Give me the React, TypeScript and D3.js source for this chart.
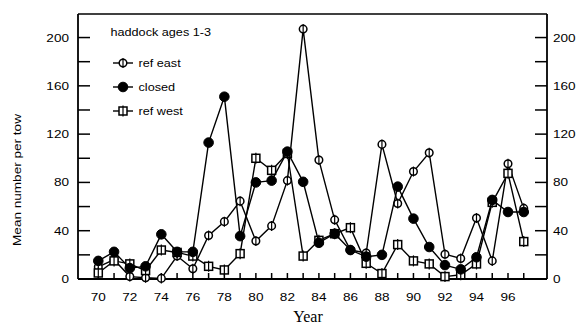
import React from "react";
import * as d3 from "d3";

const years = [70,71,72,73,74,75,76,77,78,79,80,81,82,83,84,85,86,87,88,89,90,91,92,93,94,95,96,97];
const refEast = [10,16,2,1,0.5,19,8.5,36,47.5,64.5,31.5,44,81.5,207,98.5,49,24,21.5,111.5,62.5,89,104.5,20.5,17,50.5,15,95.5,58.5];
const closed = [15,22.5,9,10.5,37,22.5,22.5,113,151,35.5,80,81.5,105.5,80.5,30,37.5,24,18.5,20,76.5,50,26.5,11.5,8,18,65.5,55.5,55.5];
const refWest = [5,15,12.5,7,24,22,19,10.5,7.5,21,100,90,104,19,32,37.5,42.5,13,4.5,28.5,15,12.5,2,3.5,12.5,63.5,87.5,31];
const yTicksMajor = [0,40,80,120,160,200];
const yTicksMinor = [20,60,100,140,180];
const xTickLabels = [70,72,74,76,78,80,82,84,86,88,90,92,94,96];
const legendItems = ["ref east","closed","ref west"];

const W = 579, H = 324;
const LEFT = 78, RIGHT = 547, TOP = 14, BOTTOM = 279;

export default function App() {
  const x = d3.scaleLinear().domain([70, 96]).range([98.3, 508]);
  const y = d3.scaleLinear().domain([0, 220]).range([BOTTOM, 13.4]);
  const line = d3.line<number>().x((_, i) => x(years[i])).y((d) => y(d));
  const sans = "Liberation Sans, Arial, Helvetica, sans-serif";
  const sx = 1.15;
  const txt = (s: string, tx: number, ty: number, anchor: string, fs = 11.8) => (
    <text transform={`translate(${tx},${ty}) scale(${sx},1)`} textAnchor={anchor} fontFamily={sans} fontSize={fs} fill="#000">{s}</text>
  );

  const marker = (kind: number, cx: number, cy: number, key: any) => {
    if (kind === 0) {
      return (
        <g key={key}>
          <circle cx={cx} cy={cy} r={3.8} fill="#fff" stroke="#000" strokeWidth={1.5} />
          <line x1={cx} x2={cx} y1={cy - 5} y2={cy + 5} stroke="#000" strokeWidth={1.2} />
        </g>
      );
    }
    if (kind === 1) {
      return <circle key={key} cx={cx} cy={cy} r={4.8} fill="#000" stroke="#000" strokeWidth={1} />;
    }
    return (
      <g key={key}>
        <rect x={cx - 4} y={cy - 4} width={8} height={8} fill="#fff" stroke="#000" strokeWidth={1.5} />
        <line x1={cx} x2={cx} y1={cy - 5.5} y2={cy + 5.5} stroke="#000" strokeWidth={1.2} />
      </g>
    );
  };

  const seriesOrder: [number[], number][] = [[refEast, 0], [refWest, 2], [closed, 1]];

  return (
    <svg width={W} height={H} style={{ position: "absolute", left: 0, top: 0, background: "#fff" }}>
      <rect x={0} y={0} width={W} height={H} fill="#fff" />
      <line x1={LEFT} x2={RIGHT} y1={TOP} y2={TOP} stroke="#000" strokeWidth={1.5} />
      <line x1={LEFT} x2={LEFT} y1={TOP} y2={BOTTOM} stroke="#000" strokeWidth={1.8} />
      <line x1={RIGHT} x2={RIGHT} y1={TOP} y2={BOTTOM} stroke="#000" strokeWidth={1.8} />
      <line x1={LEFT} x2={RIGHT} y1={BOTTOM} y2={BOTTOM} stroke="#000" strokeWidth={1.8} />
      {[...yTicksMajor, ...yTicksMinor].map((v) => (
        <g key={"yt" + v}>
          <line x1={LEFT} x2={LEFT + 12} y1={y(v)} y2={y(v)} stroke="#000" strokeWidth={1.5} />
          <line x1={RIGHT - 12} x2={RIGHT} y1={y(v)} y2={y(v)} stroke="#000" strokeWidth={1.5} />
        </g>
      ))}
      {yTicksMajor.map((v) => (
        <g key={"yl" + v}>
          {txt(String(v), 69, y(v) + 4, "end")}
          {txt(String(v), 553, y(v) + 4, "start")}
        </g>
      ))}
      {years.map((yr) => (
        <line key={"xt" + yr} x1={x(yr)} x2={x(yr)} y1={BOTTOM} y2={BOTTOM - 6} stroke="#000" strokeWidth={1.5} />
      ))}
      {xTickLabels.map((yr) => (
        <g key={"xl" + yr}>{txt(String(yr), x(yr), 301, "middle")}</g>
      ))}
      <text transform={`translate(21,180) rotate(-90) scale(${sx},1)`} textAnchor="middle" fontFamily={sans} fontSize={11.8} fill="#000">Mean number per tow</text>
      <text x={308} y={322} textAnchor="middle" fontFamily="Liberation Serif, Times New Roman, serif" fontSize={16} fill="#000">Year</text>
      {seriesOrder.map(([vals, kind], si) => (
        <g key={"s" + si}>
          <path d={line(vals) || ""} fill="none" stroke="#000" strokeWidth={1.4} />
          {vals.map((v, i) => marker(kind, x(years[i]), y(v), i))}
        </g>
      ))}
      {txt("haddock ages 1-3", 110.5, 35.5, "start", 11)}
      {legendItems.map((name, i) => {
        const ly = 63 + i * 24;
        const kind = i === 0 ? 0 : i === 1 ? 1 : 2;
        return (
          <g key={"lg" + i}>
            <line x1={113} x2={133} y1={ly} y2={ly} stroke="#000" strokeWidth={1.4} />
            {marker(kind, 123, ly, "m")}
            {txt(name, 138.5, ly + 4, "start", 11)}
          </g>
        );
      })}
    </svg>
  );
}
